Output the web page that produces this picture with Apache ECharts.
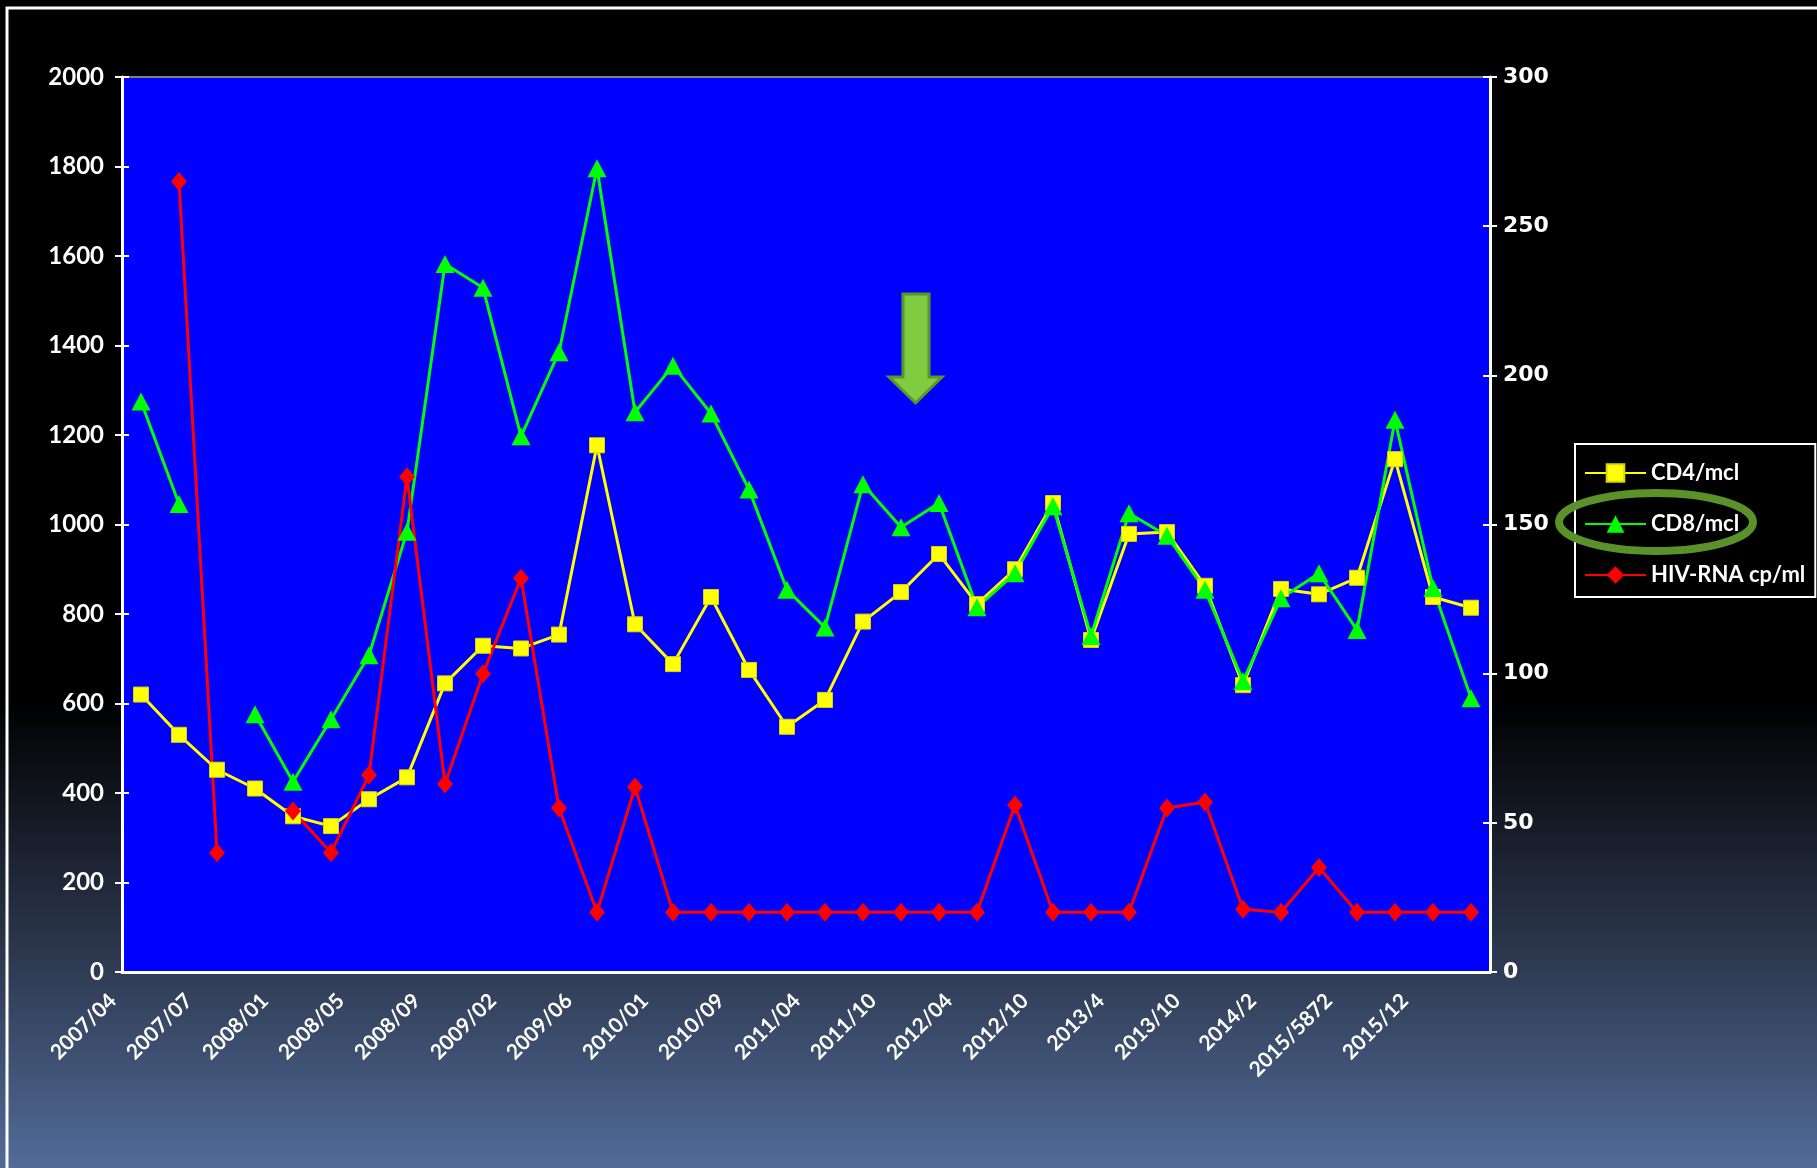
<!DOCTYPE html>
<html>
<head>
<meta charset="utf-8">
<script src="https://cdn.jsdelivr.net/npm/echarts@6/dist/echarts.min.js"></script>
<style>
  html, body { margin: 0; padding: 0; background: #000; }
  #chart { width: 1817px; height: 1168px; }
</style>
</head>
<body>
<div id="chart"></div>
<script>
// x-axis tick labels (every other category is labelled)
const tickLabels = ['2007/04', '2007/07', '2008/01', '2008/05', '2008/09', '2009/02', '2009/06', '2010/01',
  '2010/09', '2011/04', '2011/10', '2012/04', '2012/10', '2013/4', '2013/10', '2014/2', '2015/5872', '2015/12'];

// 36 measurements
const cd4 = [620, 530, 452, 410, 348, 326, 386, 435, 645, 729, 723, 754, 1177, 777, 688, 838, 675, 548,
  608, 783, 849, 934, 822, 900, 1048, 742, 979, 983, 863, 641, 856, 844, 881, 1146, 838, 814];
const cd8 = [1275, 1046, null, 576, 425, 565, 708, 984, 1582, 1529, 1197, 1385, 1796, 1251, 1355, 1248, 1078, 854,
  770, 1090, 994, 1048, 815, 891, 1041, 751, 1025, 975, 854, 650, 835, 891, 764, 1234, 858, 612];
const hivRna = [null, 265, 40, null, 54, 40, 66, 166, 63, 100, 132, 55, 20, 62, 20, 20, 20, 20,
  20, 20, 20, 20, 20, 56, 20, 20, 20, 55, 57, 21, 20, 35, 20, 20, 20, 20];

const categories = cd4.map((_, i) => (i % 2 === 0 ? tickLabels[i / 2] : ''));

const chart = echarts.init(document.getElementById('chart'));

const white = '#ffffff';
const plain = v => String(v);
const leftLabel = { color: white, fontFamily: 'Lato', fontWeight: 'bold', fontSize: 24, margin: 18, formatter: plain };
const rightLabel = { color: white, fontFamily: 'DejaVu Sans', fontWeight: 'bold', fontSize: 22, margin: 13, formatter: plain };

const option = {
  animation: false,
  backgroundColor: new echarts.graphic.LinearGradient(0, 0, 0, 1, [
    { offset: 0, color: '#000000' },
    { offset: 0.6, color: '#000000' },
    { offset: 0.832, color: '#303c54' },
    { offset: 1, color: '#516b99' }
  ]),
  grid: {
    left: 122, right: 327, top: 77, bottom: 196,
    show: true, backgroundColor: '#0000ff', borderColor: '#808080', borderWidth: 2
  },
  legend: {
    orient: 'vertical',
    left: 1575, top: 444,
    padding: [18, 10, 11, 9],
    itemGap: 29,
    itemWidth: 61, itemHeight: 22,
    backgroundColor: '#000000',
    borderColor: white, borderWidth: 2, borderRadius: 0,
    textStyle: { color: white, fontFamily: 'Lato', fontWeight: 'bold', fontSize: 22 },
    data: ['CD4/mcl', 'CD8/mcl', 'HIV-RNA cp/ml']
  },
  xAxis: [
    {
      type: 'category', data: categories, boundaryGap: true,
      axisLine: { lineStyle: { color: white, width: 3 } },
      axisTick: { interval: 0, length: 7, lineStyle: { color: white, width: 2 } },
      axisLabel: {
        interval: 0, rotate: 45, color: white, fontFamily: 'Lato', fontWeight: 'bold',
        fontSize: 21, margin: -3, padding: [0, 40, 0, 0]
      },
      splitLine: { show: false }
    },
    {
      type: 'category', data: categories, boundaryGap: true, position: 'bottom',
      axisLine: { show: false },
      axisTick: { interval: 0, inside: true, length: 7, lineStyle: { color: white, width: 2 } },
      axisLabel: { show: false }, splitLine: { show: false }
    }
  ],
  yAxis: [
    {
      type: 'value', position: 'left', min: 0, max: 2000, interval: 200,
      axisLine: { show: true, lineStyle: { color: white, width: 3 } },
      axisTick: { show: true, length: 7, lineStyle: { color: white, width: 2 } },
      axisLabel: leftLabel, splitLine: { show: false }
    },
    {
      type: 'value', position: 'right', min: 0, max: 300, interval: 50,
      axisLine: { show: true, lineStyle: { color: white, width: 3 } },
      axisTick: { show: true, length: 7, lineStyle: { color: white, width: 2 } },
      axisLabel: rightLabel, splitLine: { show: false }
    },
    {
      type: 'value', position: 'left', min: 0, max: 2000, interval: 200,
      axisLine: { show: false },
      axisTick: { show: true, inside: true, length: 7, lineStyle: { color: white, width: 2 } },
      axisLabel: { show: false }, splitLine: { show: false }
    },
    {
      type: 'value', position: 'right', min: 0, max: 300, interval: 50,
      axisLine: { show: false },
      axisTick: { show: true, inside: true, length: 7, lineStyle: { color: white, width: 2 } },
      axisLabel: { show: false }, splitLine: { show: false }
    }
  ],
  series: [
    {
      name: 'CD4/mcl', type: 'line', data: cd4, yAxisIndex: 0,
      symbol: 'rect', symbolSize: 15, showAllSymbol: true,
      lineStyle: { color: '#ffff00', width: 3 },
      itemStyle: { color: '#ffff00', borderColor: '#d8d800', borderWidth: 1 }
    },
    {
      name: 'CD8/mcl', type: 'line', data: cd8, yAxisIndex: 0,
      symbol: 'triangle', symbolSize: [19, 18], showAllSymbol: true,
      lineStyle: { color: '#00ff00', width: 3 },
      itemStyle: { color: '#00ff00' }
    },
    {
      name: 'HIV-RNA cp/ml', type: 'line', data: hivRna, yAxisIndex: 1,
      symbol: 'diamond', symbolSize: [16, 19], showAllSymbol: true,
      lineStyle: { color: '#ff0000', width: 3 },
      itemStyle: { color: '#ff0000' }
    }
  ],
  graphic: [
    {
      type: 'rect', z: 100, silent: true,
      shape: { x: 7, y: 8, width: 1900, height: 1300 },
      style: { fill: 'none', stroke: white, lineWidth: 3 }
    },
    {
      type: 'polygon', z: 100, silent: true,
      shape: { points: [[903, 294], [929, 294], [929, 377], [942, 377], [915.5, 403], [889, 377], [903, 377]] },
      style: { fill: '#80cc40', stroke: '#5a9628', lineWidth: 3 }
    },
    {
      type: 'ellipse', z: 100, silent: true,
      shape: { cx: 1656, cy: 522, rx: 97, ry: 29 },
      style: { fill: 'none', stroke: '#5a9128', lineWidth: 8 }
    }
  ]
};

chart.setOption(option);
</script>
</body>
</html>
